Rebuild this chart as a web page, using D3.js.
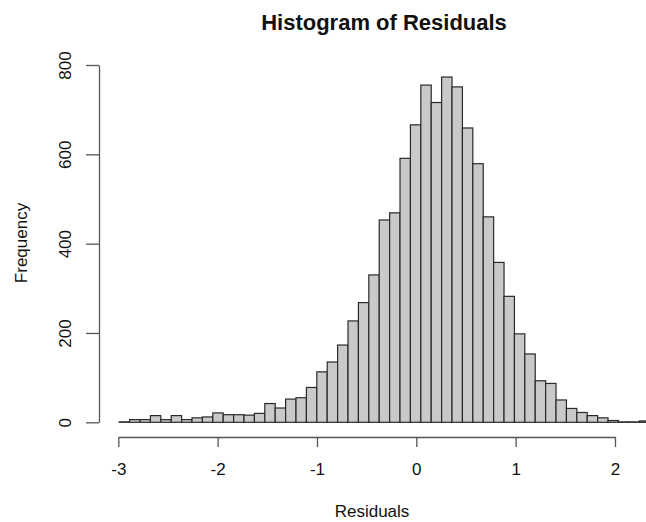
<!DOCTYPE html>
<html>
<head>
<meta charset="utf-8">
<script src="https://cdn.jsdelivr.net/npm/d3@7"></script>
<style>
  html, body { margin: 0; padding: 0; background: #fff; }
  svg { display: block; font-family: "Liberation Sans", Arial, Helvetica, sans-serif; }
</style>
</head>
<body>
<div id="chart"></div>
<script>
// ---- Data ----
const title = "Histogram of Residuals";
const xLabel = "Residuals";
const yLabel = "Frequency";
const binStart = -2.991;
const binWidth = 0.1047;
const counts = [1, 6, 6, 15, 6, 15, 6, 10, 12, 21,
                17, 17, 16, 20, 42, 32, 52, 55, 78, 113,
                135, 173, 227, 268, 330, 453, 469, 591, 666, 755,
                716, 773, 751, 659, 579, 460, 358, 282, 198, 153,
                93, 87, 50, 31, 22, 15, 10, 4, 1, 1, 3];
const xTicks = [-3, -2, -1, 0, 1, 2];
const yTicks = [0, 200, 400, 600, 800];

// ---- Layout ----
const W = 646, H = 522;
const svg = d3.select("#chart").append("svg")
  .attr("width", W).attr("height", H);

const x = d3.scaleLinear().domain([-3, 2]).range([118.3, 615]);
const y = d3.scaleLinear().domain([0, 800]).range([422.3, 65]);

const bins = counts.map((c, i) => ({
  x0: binStart + i * binWidth,
  x1: binStart + (i + 1) * binWidth,
  count: c
}));

// Bars
svg.append("g").selectAll("rect").data(bins).join("rect")
  .attr("x", d => x(d.x0))
  .attr("y", d => y(d.count))
  .attr("width", d => x(d.x1) - x(d.x0))
  .attr("height", d => y(0) - y(d.count))
  .attr("fill", "#c9c9c9")
  .attr("stroke", "#2a2a2a")
  .attr("stroke-width", 1.2);

// X axis
const xAxis = svg.append("g").attr("transform", "translate(0,437)")
  .call(d3.axisBottom(x).tickValues(xTicks).tickSize(10).tickSizeOuter(0)
        .tickFormat(d => String(d)));
xAxis.select(".domain").attr("stroke", "#555").attr("stroke-width", 1.3);
xAxis.selectAll(".tick line").attr("stroke", "#555").attr("stroke-width", 1.3);
xAxis.selectAll(".tick text")
  .attr("font-size", 17).attr("fill", "#111")
  .attr("dy", null).attr("y", 38);

// Y axis
const yAxis = svg.append("g").attr("transform", "translate(99,0)")
  .call(d3.axisLeft(y).tickValues(yTicks).tickSize(13).tickSizeOuter(0)
        .tickFormat(d => String(d)));
yAxis.select(".domain").attr("stroke", "#555").attr("stroke-width", 1.3);
yAxis.selectAll(".tick line").attr("stroke", "#555").attr("stroke-width", 1.3);
yAxis.selectAll(".tick text")
  .attr("font-size", 17).attr("fill", "#111")
  .attr("x", null).attr("dy", null)
  .attr("text-anchor", "middle")
  .attr("transform", "translate(-28,0) rotate(-90)")
  .attr("y", 0);

// Title
svg.append("text")
  .attr("x", 384).attr("y", 30)
  .attr("text-anchor", "middle")
  .attr("font-size", 22).attr("font-weight", "bold").attr("fill", "#111")
  .text(title);

// X label
svg.append("text")
  .attr("x", 372).attr("y", 517)
  .attr("text-anchor", "middle")
  .attr("font-size", 17).attr("fill", "#111")
  .text(xLabel);

// Y label
svg.append("text")
  .attr("transform", "translate(26.5,243) rotate(-90)")
  .attr("text-anchor", "middle")
  .attr("font-size", 17).attr("fill", "#111")
  .text(yLabel);
</script>
</body>
</html>
